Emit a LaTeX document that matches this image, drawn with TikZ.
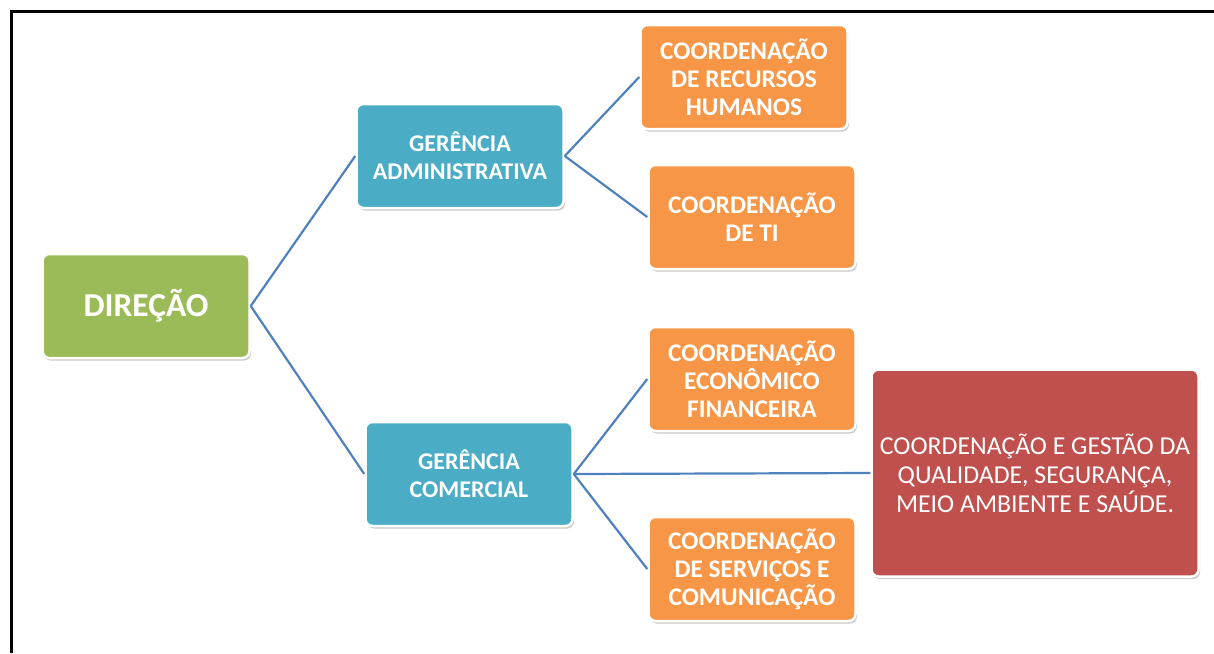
\documentclass[tikz,border=0pt]{standalone}
\usepackage{fontspec}
\setmainfont{Carlito}
\usetikzlibrary{shadows}
\definecolor{CGreen}{HTML}{9BBB59}
\definecolor{CBlue}{HTML}{4BACC6}
\definecolor{COrange}{HTML}{F79646}
\definecolor{CRed}{HTML}{C0504D}
\definecolor{CLine}{HTML}{4F81BD}

\begin{document}
\begin{tikzpicture}[x=1pt, y=-1pt,
    box/.style={rounded corners=7pt, draw=white, line width=2.5pt, text=white, align=center,
        minimum width=207pt, minimum height=104pt, inner sep=0pt,
        drop shadow={shadow xshift=1.5pt, shadow yshift=-2.5pt, fill=black!35, opacity=0.6},
        font=\bfseries\fontsize{25.4}{28}\selectfont},
    link/.style={CLine, line width=2.2pt}]
    \useasboundingbox (0, 0) rectangle (1214, 653);
    \draw [line width=3pt] (11, 653) -- (11, 11) -- (1214, 11);

    \node [box, fill=CGreen, font=\bfseries\fontsize{33.5}{38}\selectfont] (direcao) at (146, 306) {DIREÇÃO};

    \node [box, fill=CBlue, font=\bfseries\fontsize{24}{28}\selectfont] (gerAdm) at (460, 156) {GERÊNCIA\\ADMINISTRATIVA};
    \node [box, fill=CBlue, font=\bfseries\fontsize{24}{28}\selectfont] (gerCom) at (469, 474) {GERÊNCIA\\COMERCIAL};

    \node [box, fill=COrange] (coordRH) at (744, 77) {COORDENAÇÃO\\DE RECURSOS\\HUMANOS};
    \node [box, fill=COrange] (coordTI) at (752, 217) {COORDENAÇÃO\\DE TI};
    \node [box, fill=COrange] (coordEF) at (752, 379) {COORDENAÇÃO\\ECONÔMICO\\FINANCEIRA};
    \node [box, fill=COrange] (coordSC) at (752, 569) {COORDENAÇÃO\\DE SERVIÇOS E\\COMUNICAÇÃO};

    \node [box, fill=CRed, minimum width=327pt, minimum height=207pt,
        font=\fontsize{25.8}{29}\selectfont] (coordQ) at (1035, 473)
        {COORDENAÇÃO E GESTÃO DA\\QUALIDADE, SEGURANÇA,\\MEIO AMBIENTE E SAÚDE.};

    \draw [link] (direcao.east) -- (gerAdm.west);
    \draw [link] (direcao.east) -- (gerCom.west);
    \draw [link] (gerAdm.east) -- (coordRH.west);
    \draw [link] (gerAdm.east) -- (coordTI.west);
    \draw [link] (gerCom.east) -- (coordEF.west);
    \draw [link] (gerCom.east) -- (coordQ.west);
    \draw [link] (gerCom.east) -- (coordSC.west);
\end{tikzpicture}
\end{document}
